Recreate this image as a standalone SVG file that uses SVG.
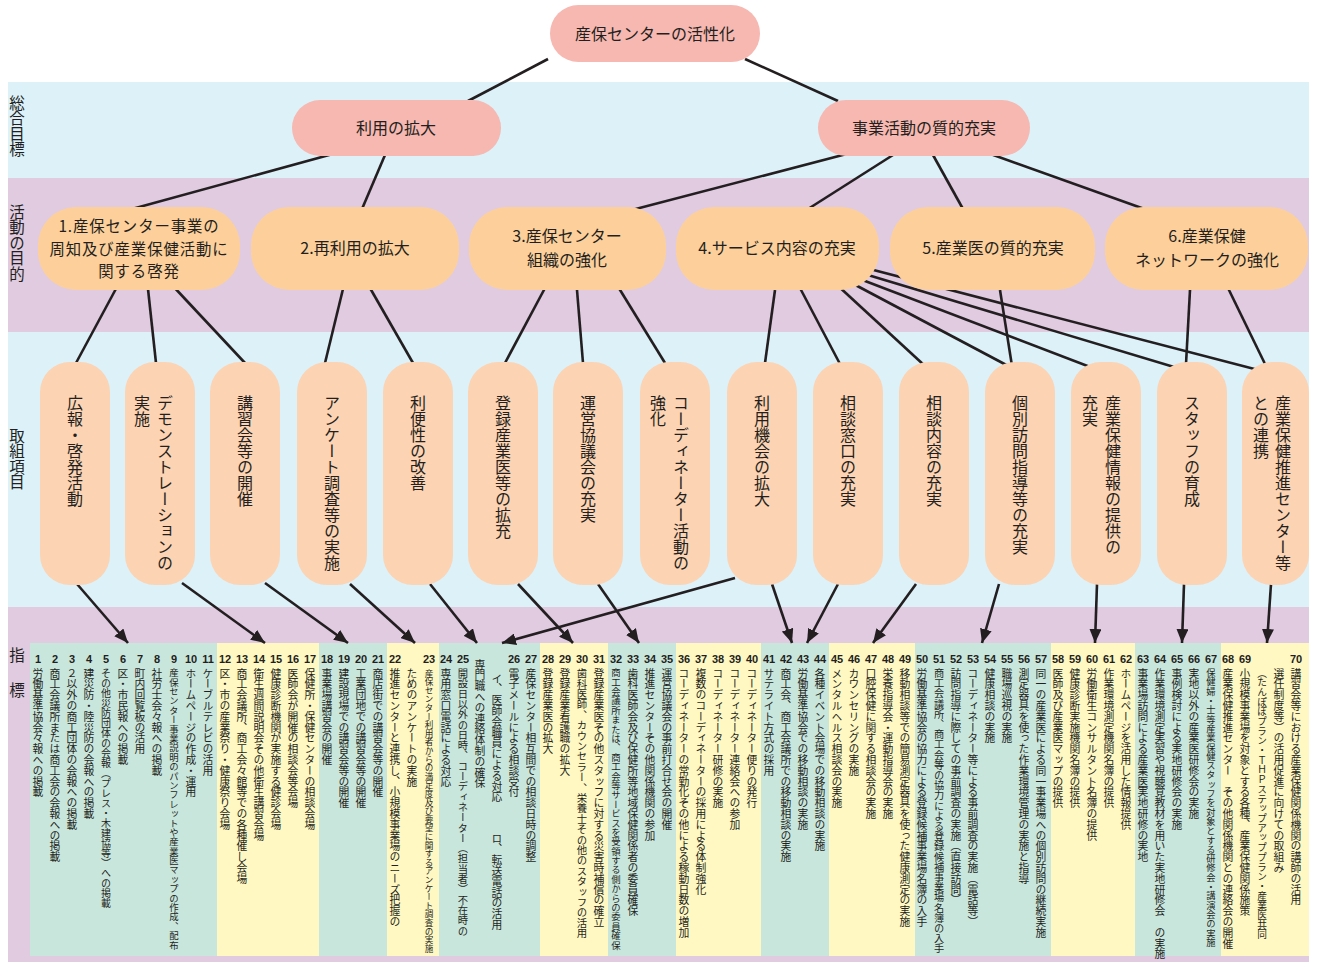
<svg xmlns="http://www.w3.org/2000/svg" width="1318" height="962" viewBox="0 0 1318 962">
<defs>
<style>
.bb{fill:#ddf1f9}
.bp{fill:#e0cbe1}
.g{fill:#c9e6dd}
.y{fill:#fff8c3}
.lab{font-family:"Noto Sans CJK JP",sans-serif;font-size:15.5px;fill:#231f20;writing-mode:vertical-rl}
.t0{font-family:"Noto Sans CJK JP",sans-serif;font-size:16px;fill:#231f20;text-anchor:middle}
.t3{font-family:"Noto Sans CJK JP",sans-serif;font-size:16px;fill:#231f20;writing-mode:vertical-rl}
.n{font-family:"Liberation Sans",Arial,sans-serif;font-weight:bold;font-size:11px;fill:#231f20;text-anchor:middle}
.v{font-family:"Noto Sans CJK JP",sans-serif;font-size:10.8px;fill:#231f20;writing-mode:vertical-rl}
.pk{fill:#f6b8b0}
.or{fill:#fdd09b}
.pc{fill:#fcd3b3}
.ln{stroke:#231f20;stroke-width:2.6;fill:none}
.ar{stroke:#231f20;stroke-width:2.6;fill:none;marker-end:url(#ah)}
</style>
<marker id="ah" markerUnits="userSpaceOnUse" markerWidth="14" markerHeight="12" refX="14" refY="6" orient="auto">
<path d="M0,0 L14,6 L0,12 z" fill="#231f20"/>
</marker>
</defs>
<rect width="1318" height="962" fill="#ffffff"/>
<!-- bands -->
<g id="bands">
<rect class="bb" x="8" y="82" width="1301" height="96"/>
<rect class="bp" x="8" y="178" width="1301" height="154"/>
<rect class="bb" x="8" y="332" width="1301" height="275"/>
<rect class="bp" x="8" y="607" width="1301" height="355"/>
<text class="lab" x="17" y="95">総合目標</text>
<text class="lab" x="17" y="204">活動の目的</text>
<text class="lab" x="17" y="428">取組項目</text>
<text class="lab" x="17" y="647">指</text>
<text class="lab" x="17" y="682">標</text>
</g>
<!-- indicator boxes -->
<g id="boxes">
<rect class="g" x="30" y="643" width="187" height="313"/>
<rect class="y" x="217" y="643" width="102" height="313"/>
<rect class="g" x="319" y="643" width="68" height="313"/>
<rect class="y" x="387" y="643" width="52" height="313"/>
<rect class="g" x="439" y="643" width="101" height="313"/>
<rect class="y" x="540" y="643" width="68" height="313"/>
<rect class="g" x="608" y="643" width="68" height="313"/>
<rect class="y" x="676" y="643" width="85" height="313"/>
<rect class="g" x="761" y="643" width="68" height="313"/>
<rect class="y" x="829" y="643" width="86" height="313"/>
<rect class="g" x="915" y="643" width="136" height="313"/>
<rect class="y" x="1051" y="643" width="84" height="313"/>
<rect class="g" x="1135" y="643" width="86" height="313"/>
<rect class="y" x="1221" y="643" width="88" height="313"/>
</g>
<!-- connectors -->
<g id="connectors">
<line class="ln" x1="548" y1="59" x2="468" y2="101"/>
<line class="ln" x1="745" y1="59" x2="838" y2="101"/>
<line class="ln" x1="340" y1="152" x2="132" y2="209"/>
<line class="ln" x1="385" y1="155" x2="362" y2="209"/>
<line class="ln" x1="858" y1="151" x2="628" y2="211"/>
<line class="ln" x1="893" y1="155" x2="808" y2="209"/>
<line class="ln" x1="933" y1="155" x2="963" y2="209"/>
<line class="ln" x1="985" y1="152" x2="1150" y2="211"/>
<line class="ln" x1="118" y1="285" x2="76" y2="363"/>
<line class="ln" x1="148" y1="289" x2="156" y2="363"/>
<line class="ln" x1="172" y1="285" x2="245" y2="363"/>
<line class="ln" x1="343" y1="289" x2="325" y2="363"/>
<line class="ln" x1="370" y1="288" x2="413" y2="363"/>
<line class="ln" x1="545" y1="288" x2="505" y2="363"/>
<line class="ln" x1="577" y1="290" x2="583" y2="363"/>
<line class="ln" x1="617" y1="285" x2="665" y2="363"/>
<line class="ln" x1="775" y1="290" x2="765" y2="363"/>
<line class="ln" x1="800" y1="288" x2="840" y2="364"/>
<line class="ln" x1="836" y1="284" x2="925" y2="366"/>
<line class="ln" x1="846" y1="280" x2="1012" y2="368"/>
<line class="ln" x1="852" y1="276" x2="1098" y2="370"/>
<line class="ln" x1="858" y1="272" x2="1184" y2="370"/>
<line class="ln" x1="862" y1="267" x2="1266" y2="372"/>
<line class="ln" x1="1000" y1="290" x2="1012" y2="366"/>
<line class="ln" x1="1190" y1="290" x2="1186" y2="364"/>
<line class="ln" x1="1228" y1="288" x2="1266" y2="366"/>
<line class="ar" x1="77" y1="584" x2="128" y2="643"/>
<line class="ar" x1="182" y1="583" x2="265" y2="643"/>
<line class="ar" x1="265" y1="583" x2="348" y2="643"/>
<line class="ar" x1="350" y1="584" x2="415" y2="643"/>
<line class="ar" x1="430" y1="584" x2="477" y2="643"/>
<line class="ar" x1="518" y1="584" x2="573" y2="643"/>
<line class="ar" x1="598" y1="584" x2="639" y2="643"/>
<line class="ar" x1="735" y1="578" x2="502" y2="643"/>
<line class="ar" x1="772" y1="584" x2="792" y2="643"/>
<line class="ar" x1="838" y1="584" x2="807" y2="643"/>
<line class="ar" x1="916" y1="584" x2="873" y2="643"/>
<line class="ar" x1="999" y1="584" x2="982" y2="643"/>
<line class="ar" x1="1097" y1="584" x2="1095" y2="643"/>
<line class="ar" x1="1184" y1="584" x2="1182" y2="643"/>
<line class="ar" x1="1271" y1="584" x2="1267" y2="643"/>
</g>
<!-- level 0/1 -->
<g id="n-root"><rect class="pk" x="550" y="5" width="210" height="57" rx="28.5"/><text class="t0" x="655" y="40">産保センターの活性化</text></g>
<g id="n-riyou"><rect class="pk" x="292" y="100" width="209" height="56" rx="28"/><text class="t0" x="396" y="134">利用の拡大</text></g>
<g id="n-jigyou"><rect class="pk" x="818" y="100" width="212" height="56" rx="28"/><text class="t0" x="924" y="134">事業活動の質的充実</text></g>
<!-- level 2 -->
<g id="p1"><rect class="or" x="38" y="207" width="202" height="83" rx="38"/><text class="t0" x="139" y="232" style="font-size:15.4px;letter-spacing:0.9px"><tspan x="139">1.産保センター事業の</tspan><tspan x="139" dy="22.5">周知及び産業保健活動に</tspan><tspan x="139" dy="22.5">関する啓発</tspan></text></g>
<g id="p2"><rect class="or" x="251" y="207" width="208" height="83" rx="38"/><text class="t0" x="355" y="254">2.再利用の拡大</text></g>
<g id="p3"><rect class="or" x="469" y="207" width="197" height="83" rx="38"/><text class="t0" x="567" y="242"><tspan x="567">3.産保センター</tspan><tspan x="567" dy="23.5">組織の強化</tspan></text></g>
<g id="p4"><rect class="or" x="676" y="207" width="203" height="83" rx="38"/><text class="t0" x="777" y="254">4.サービス内容の充実</text></g>
<g id="p5"><rect class="or" x="890" y="207" width="205" height="83" rx="38"/><text class="t0" x="993" y="254">5.産業医の質的充実</text></g>
<g id="p6"><rect class="or" x="1105" y="207" width="203" height="83" rx="38"/><text class="t0" x="1207" y="242"><tspan x="1207">6.産業保健</tspan><tspan x="1207" dy="23.5">ネットワークの強化</tspan></text></g>
<!-- level 3 -->
<g id="a1"><rect class="pc" x="40" y="362" width="70" height="223" rx="30"/><text class="t3" x="75" y="395">広報・啓発活動</text></g>
<g id="a2"><rect class="pc" x="125" y="362" width="70" height="223" rx="30"/><text class="t3" x="165" y="395">デモンストレーションの</text><text class="t3" x="142" y="395">実施</text></g>
<g id="a3"><rect class="pc" x="210" y="362" width="70" height="223" rx="30"/><text class="t3" x="245" y="395">講習会等の開催</text></g>
<g id="a4"><rect class="pc" x="297" y="362" width="70" height="223" rx="30"/><text class="t3" x="332" y="395">アンケート調査等の実施</text></g>
<g id="a5"><rect class="pc" x="383" y="362" width="70" height="223" rx="30"/><text class="t3" x="418" y="395">利便性の改善</text></g>
<g id="a6"><rect class="pc" x="468" y="362" width="70" height="223" rx="30"/><text class="t3" x="503" y="395">登録産業医等の拡充</text></g>
<g id="a7"><rect class="pc" x="553" y="362" width="70" height="223" rx="30"/><text class="t3" x="588" y="395">運営協議会の充実</text></g>
<g id="a8"><rect class="pc" x="640" y="362" width="70" height="223" rx="30"/><text class="t3" x="681" y="395">コーディネーター活動の</text><text class="t3" x="658" y="395">強化</text></g>
<g id="a9"><rect class="pc" x="727" y="362" width="70" height="223" rx="30"/><text class="t3" x="762" y="395">利用機会の拡大</text></g>
<g id="a10"><rect class="pc" x="813" y="362" width="70" height="223" rx="30"/><text class="t3" x="848" y="395">相談窓口の充実</text></g>
<g id="a11"><rect class="pc" x="899" y="362" width="70" height="223" rx="30"/><text class="t3" x="934" y="395">相談内容の充実</text></g>
<g id="a12"><rect class="pc" x="985" y="362" width="70" height="223" rx="30"/><text class="t3" x="1020" y="395">個別訪問指導等の充実</text></g>
<g id="a13"><rect class="pc" x="1071" y="362" width="70" height="223" rx="30"/><text class="t3" x="1113" y="395">産業保健情報の提供の</text><text class="t3" x="1090" y="395">充実</text></g>
<g id="a14"><rect class="pc" x="1157" y="362" width="70" height="223" rx="30"/><text class="t3" x="1192" y="395">スタッフの育成</text></g>
<g id="a15"><rect class="pc" x="1242" y="362" width="67" height="223" rx="30"/><text class="t3" x="1283" y="395">産業保健推進センター等</text><text class="t3" x="1261" y="395">との連携</text></g>
<!-- indicators -->
<g id="indicators">
<text class="n" x="38" y="663">1</text><text class="v" x="38" y="668">労働基準協会々報への掲載</text>
<text class="n" x="55" y="663">2</text><text class="v" x="55" y="668">商工会議所または商工会の会報への掲載</text>
<text class="n" x="72" y="663">3</text><text class="v" x="72" y="668">２以外の商工団体の会報への掲載</text>
<text class="n" x="89" y="663">4</text><text class="v" x="89" y="668">建災防・陸災防の会報への掲載</text>
<text class="n" x="106" y="663">5</text><text class="v" x="106" y="668" style="font-size:10px">その他災防団体の会報（プレス・木建協等）への掲載</text>
<text class="n" x="123" y="663">6</text><text class="v" x="123" y="668">区・市民報への掲載</text>
<text class="n" x="140" y="663">7</text><text class="v" x="140" y="668">町内回覧板の活用</text>
<text class="n" x="157" y="663">8</text><text class="v" x="157" y="668">社労士会々報への掲載</text>
<text class="n" x="174" y="663">9</text><text class="v" x="174" y="668" style="font-size:9.4px">産保センター事業説明のパンフレットや産業医マップの作成、配布</text>
<text class="n" x="191" y="663">10</text><text class="v" x="191" y="668">ホームページの作成・運用</text>
<text class="n" x="208" y="663">11</text><text class="v" x="208" y="668">ケーブルテレビの活用</text>
<text class="n" x="225" y="663">12</text><text class="v" x="225" y="668">区・市の産業祭り・健康祭り会場</text>
<text class="n" x="242" y="663">13</text><text class="v" x="242" y="668">商工会議所、商工会々館等での各種催し会場</text>
<text class="n" x="259" y="663">14</text><text class="v" x="259" y="668">衛生週間説明会その他衛生講習会場</text>
<text class="n" x="276" y="663">15</text><text class="v" x="276" y="668">健康診断機関が実施する健診会場</text>
<text class="n" x="293" y="663">16</text><text class="v" x="293" y="668">医師会が開催の相談会等会場</text>
<text class="n" x="310" y="663">17</text><text class="v" x="310" y="668">保健所・保健センターの相談会場</text>
<text class="n" x="327" y="663">18</text><text class="v" x="327" y="668">事業場講習会の開催</text>
<text class="n" x="344" y="663">19</text><text class="v" x="344" y="668">建設現場での講習会等の開催</text>
<text class="n" x="361" y="663">20</text><text class="v" x="361" y="668">工業団地での講習会等の開催</text>
<text class="n" x="378" y="663">21</text><text class="v" x="378" y="668">商店街での講習会等の開催</text>
<text class="n" x="395" y="663">22</text><text class="v" x="395" y="668">推進センターと連携し、小規模事業場のニーズ把握の</text>
<text class="v" x="412" y="668">ためのアンケートの実施</text>
<text class="n" x="429" y="663">23</text><text class="v" x="429" y="669" style="font-size:8.6px">産保センター利用者からの満足度及び要望に関するアンケート調査の実施</text>
<text class="n" x="446" y="663">24</text><text class="v" x="446" y="668">専用窓口電話による対応</text>
<text class="n" x="463" y="663">25</text><text class="v" x="463" y="668" style="font-size:10.3px">開設日以外の日時、コーディネーター（担当者）不在時の</text>
<text class="v" x="480" y="659">専門職への連絡体制の確保</text>
<text class="v" x="497" y="673">イ、医師会職員による対応</text><text class="v" x="497" y="833">ロ、転送電話の活用</text>
<text class="n" x="514" y="663">26</text><text class="v" x="514" y="668">電子メールによる相談受付</text>
<text class="n" x="531" y="663">27</text><text class="v" x="531" y="668">産保センター相互間での相談日時の調整</text>
<text class="n" x="548" y="663">28</text><text class="v" x="548" y="668">登録産業医の拡大</text>
<text class="n" x="565" y="663">29</text><text class="v" x="565" y="668">登録産業看護職の拡大</text>
<text class="n" x="582" y="663">30</text><text class="v" x="582" y="668" style="font-size:10.4px">歯科医師、カウンセラー、栄養士その他のスタッフの活用</text>
<text class="n" x="599" y="663">31</text><text class="v" x="599" y="668">登録産業医その他スタッフに対する災害時補償の確立</text>
<text class="n" x="616" y="663">32</text><text class="v" x="616" y="668" style="font-size:9.4px">商工会議所または、商工会等サービスを受領する側からの委員確保</text>
<text class="n" x="633" y="663">33</text><text class="v" x="633" y="668">歯科医師会及び保健所等地域保健関係者の委員確保</text>
<text class="n" x="650" y="663">34</text><text class="v" x="650" y="668">推進センターその他関係機関の参加</text>
<text class="n" x="667" y="663">35</text><text class="v" x="667" y="668">運営協議会の事前打合せ会の開催</text>
<text class="n" x="684" y="663">36</text><text class="v" x="684" y="668">コーディネーターの常勤化その他による稼動日数の増加</text>
<text class="n" x="701" y="663">37</text><text class="v" x="701" y="668">複数のコーディネーターの採用による体制強化</text>
<text class="n" x="718" y="663">38</text><text class="v" x="718" y="668">コーディネーター研修の実施</text>
<text class="n" x="735" y="663">39</text><text class="v" x="735" y="668">コーディネーター連絡会への参加</text>
<text class="n" x="752" y="663">40</text><text class="v" x="752" y="668">コーディネーター便りの発行</text>
<text class="n" x="769" y="663">41</text><text class="v" x="769" y="668">サテライト方式の採用</text>
<text class="n" x="786" y="663">42</text><text class="v" x="786" y="668">商工会、商工会議所での移動相談の実施</text>
<text class="n" x="803" y="663">43</text><text class="v" x="803" y="668">労働基準協会での移動相談の実施</text>
<text class="n" x="820" y="663">44</text><text class="v" x="820" y="668">各種イベント会場での移動相談の実施</text>
<text class="n" x="837" y="663">45</text><text class="v" x="837" y="668">メンタルヘルス相談会の実施</text>
<text class="n" x="854" y="663">46</text><text class="v" x="854" y="668">カウンセリングの実施</text>
<text class="n" x="871" y="663">47</text><text class="v" x="871" y="668">口腔保健に関する相談会の実施</text>
<text class="n" x="888" y="663">48</text><text class="v" x="888" y="668">栄養指導会・運動指導会の実施</text>
<text class="n" x="905" y="663">49</text><text class="v" x="905" y="668">移動相談等での簡易測定器具を使った健康測定の実施</text>
<text class="n" x="922" y="663">50</text><text class="v" x="922" y="668">労働基準協会の協力による登録候補事業場名簿の入手</text>
<text class="n" x="939" y="663">51</text><text class="v" x="939" y="668" style="font-size:10.2px">商工会議所、商工会等の協力による登録候補事業場名簿の入手</text>
<text class="n" x="956" y="663">52</text><text class="v" x="956" y="668">訪問指導に際しての事前調査の実施（直接訪問）</text>
<text class="n" x="973" y="663">53</text><text class="v" x="973" y="668">コーディネーター等による事前調査の実施（電話等）</text>
<text class="n" x="990" y="663">54</text><text class="v" x="990" y="668">健康相談の実施</text>
<text class="n" x="1007" y="663">55</text><text class="v" x="1007" y="668">職場巡視の実施</text>
<text class="n" x="1024" y="663">56</text><text class="v" x="1024" y="668">測定器具を使った作業環境管理の実施と指導</text>
<text class="n" x="1041" y="663">57</text><text class="v" x="1041" y="668">同一の産業医による同一事業場への個別訪問の継続実施</text>
<text class="n" x="1058" y="663">58</text><text class="v" x="1058" y="668">医師及び産業医マップの提供</text>
<text class="n" x="1075" y="663">59</text><text class="v" x="1075" y="668">健康診断実施機関名簿の提供</text>
<text class="n" x="1092" y="663">60</text><text class="v" x="1092" y="668">労働衛生コンサルタント名簿の提供</text>
<text class="n" x="1109" y="663">61</text><text class="v" x="1109" y="668">作業環境測定機関名簿の提供</text>
<text class="n" x="1126" y="663">62</text><text class="v" x="1126" y="668">ホームページを活用した情報提供</text>
<text class="n" x="1143" y="663">63</text><text class="v" x="1143" y="668">事業場訪問による産業医実地研修の実地</text>
<text class="n" x="1160" y="663">64</text><text class="v" x="1160" y="668">作業環境測定実習や視聴覚教材を用いた実地研修会　の実施</text>
<text class="n" x="1177" y="663">65</text><text class="v" x="1177" y="668">事例検討による実地研修会の実施</text>
<text class="n" x="1194" y="663">66</text><text class="v" x="1194" y="668">実地以外の産業医研修会の実施</text>
<text class="n" x="1211" y="663">67</text><text class="v" x="1211" y="668" style="font-size:9.3px">保健婦・士等産業保健スタッフを対象とする研修会・講演会の実施</text>
<text class="n" x="1228" y="663">68</text><text class="v" x="1228" y="668">産業保健推進センター　その他関係機関との連絡会の開催</text>
<text class="n" x="1245" y="663">69</text><text class="v" x="1245" y="668">小規模事業場を対象とする各種、産業保健関係施策</text>
<text class="v" x="1262" y="668" style="font-size:9.7px">（たんぽぽプラン・ＴＨＰステップアッププラン・産業医共同</text>
<text class="v" x="1279" y="668">選任制度等）の活用促進に向けての取組み</text>
<text class="n" x="1296" y="663">70</text><text class="v" x="1296" y="668">講習会等における産業保健関係機関の講師の活用</text>
</g>
</svg>
